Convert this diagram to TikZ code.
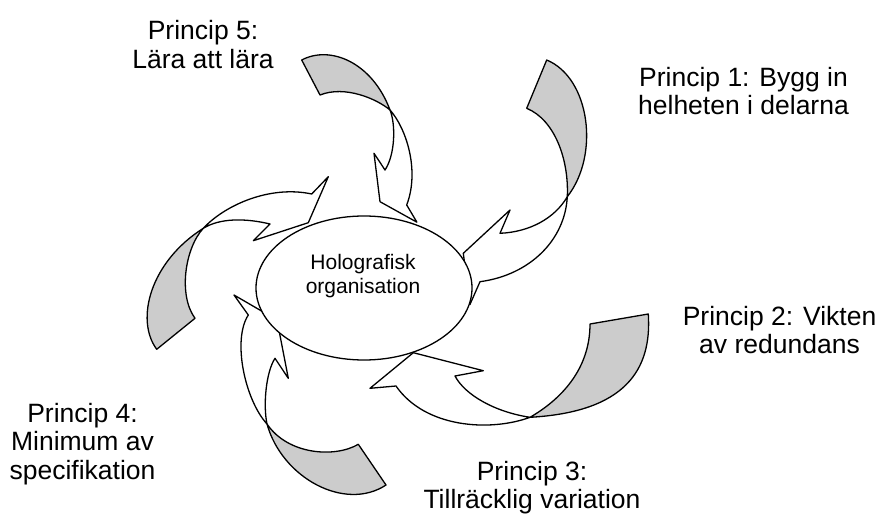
\documentclass[tikz,border=0pt]{standalone}
\usepackage{fontspec}
\setmainfont{Liberation Sans}
\usetikzlibrary{shapes.geometric}
\definecolor{tailgray}{RGB}{204,204,204}
\begin{document}
\begin{tikzpicture}[x=1pt,y=-1pt,
  outline/.style={draw=black, line width=1.3pt, line join=round},
  tailface/.style={outline, fill=tailgray},
  bodyface/.style={outline, fill=white},
  hub/.style={ellipse, outline, fill=white, minimum width=216pt, minimum height=144pt, inner sep=0pt},
  hubtext/.style={align=center, inner sep=0pt, font=\fontsize{21}{23.5}\selectfont},
  caption/.style={align=center, inner sep=0pt, font=\fontsize{26.5}{28.5}\selectfont}]
\useasboundingbox (0,0) rectangle (877,521);
\fill[white] (0,0) rectangle (877,521);

% Principle 1: twisted tail (back side) and curved body with head
\path[tailface] (546.7,60) .. controls (590,78) and (600,155) .. (567.3,196.7)
  .. controls (569,160) and (555,120) .. (526.7,108.3) -- cycle;
\path[bodyface] (567.3,196.7) .. controls (565,240) and (530,275) .. (480,281.7)
  -- (469.9,304.6) -- (463.3,253.3) -- (510,210) -- (500,233.3)
  .. controls (530,232) and (555,218) .. (567.3,196.7) -- cycle;

% Principle 2
\path[tailface] (648.3,314) .. controls (652,370) and (625,412) .. (530,417.3)
  .. controls (560,400) and (590,370) .. (590,324) -- cycle;
\path[bodyface] (530,417.3) .. controls (490,432) and (425,428) .. (396,386)
  -- (370,388.3) -- (413.3,352.7) -- (483.3,370.7) -- (455,376)
  .. controls (465,395) and (495,412) .. (530,417.3) -- cycle;

% Principle 3
\path[tailface] (358.3,444.3) .. controls (335,458) and (288,455) .. (267,424)
  .. controls (282,478) and (345,512) .. (386,485) -- cycle;
\path[bodyface] (267,424) .. controls (245,400) and (232,340) .. (248.3,315)
  -- (234,295) -- (277,320) -- (288.3,378.3) -- (275,358.3)
  .. controls (266,372) and (263,405) .. (267,424) -- cycle;

% Principle 4
\path[tailface] (156.7,349.3) .. controls (135,320) and (150,262) .. (203.3,228.3)
  .. controls (185,248) and (178,295) .. (195,318.3) -- cycle;
\path[bodyface] (203.3,228.3) .. controls (225,205) and (270,185) .. (311.7,194)
  -- (328.3,176.7) -- (308.3,222.7) -- (253.3,240.7) -- (270,224)
  .. controls (245,218) and (220,218) .. (203.3,228.3) -- cycle;

% Principle 5
\path[tailface] (301.7,60) .. controls (330,45) and (372,62) .. (390,110)
  .. controls (377,99) and (345,85) .. (320,95) -- cycle;
\path[bodyface] (390,110) .. controls (406,128) and (420,170) .. (406.7,205)
  -- (416.9,222.2) -- (380,201.7) -- (374,153.3) -- (385,170)
  .. controls (395,155) and (396,125) .. (390,110) -- cycle;

% central ellipse drawn over the arrow heads
\node[hub] (hub) at (364,288) {};
\node[hubtext] (hubtxt) at (363,276.2) {Holografisk\\organisation};

% captions
\node[caption] (p1) at (743.5,90.8) {Princip 1: Bygg in\\helheten i delarna};
\node[caption] (p2) at (779.5,329.8) {Princip 2: Vikten\\av redundans};
\node[caption] (p3) at (532,487.6) {Princip 3:\\Tillräcklig variation};
\node[caption] (p4) at (82.5,443.8) {Princip 4:\\Minimum av\\specifikation};
\node[caption] (p5) at (203,44.3) {Princip 5:\\Lära att lära};
\end{tikzpicture}
\end{document}
